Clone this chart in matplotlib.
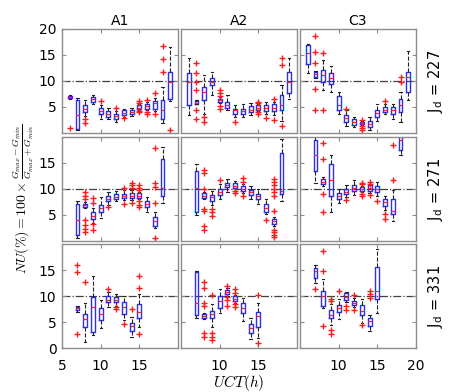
import matplotlib
matplotlib.use('Agg')
import matplotlib.pyplot as plt

plt.rcParams['font.family'] = ['DejaVu Sans']
plt.rcParams['mathtext.fontset'] = 'cm'

columns = ['A1', 'A2', 'C3']
jd_values = ['227', '271', '331']

# each row: hour, whisker low, q1, median, q3, whisker high, outliers
A1_227 = [
    (6, 6.6, 6.8, 7.0, 7.2, 7.4, [1.0]),
    (7, 0.5, 0.8, 3.5, 6.4, 6.8, []),
    (8, 3.3, 4.0, 4.6, 5.3, 6.3, [2.6, 1.9]),
    (9, 5.6, 6.0, 6.5, 6.95, 7.4, []),
    (10, 2.6, 3.6, 4.3, 4.9, 5.3, [6.1]),
    (11, 2.7, 3.05, 3.7, 4.2, 4.9, []),
    (12, 2.1, 2.7, 3.2, 3.7, 4.3, [4.9]),
    (13, 3.1, 3.4, 3.9, 4.35, 4.7, [2.9]),
    (14, 3.2, 3.7, 4.1, 4.5, 4.9, []),
    (15, 4.4, 4.6, 4.9, 5.3, 5.5, [6.1, 5.8, 4.3, 4.0]),
    (16, 4.5, 4.7, 5.1, 5.5, 5.9, [6.3, 4.1, 3.6]),
    (17, 4.2, 4.7, 5.7, 6.2, 6.8, [7.7, 3.6]),
    (18, 2.0, 2.7, 4.5, 6.3, 8.9, [16.8, 14.2, 11.8]),
    (19, 6.2, 6.6, 9.9, 11.7, 16.5, [0.6]),
]
A2_227 = [
    (6, 3.5, 5.45, 9.9, 11.6, 14.4, []),
    (7, 5.5, 5.6, 5.85, 6.1, 6.3, [13.4, 11.5, 9.9, 8.2, 4.35, 2.7]),
    (8, 3.7, 6.4, 7.9, 8.9, 11.2, [3.05, 2.2]),
    (9, 7.3, 9.2, 9.9, 10.5, 11.8, []),
    (10, 5.7, 6.0, 6.3, 6.6, 6.9, [8.2, 7.7, 7.2, 5.1, 4.7]),
    (11, 4.35, 4.9, 5.4, 6.0, 7.3, []),
    (12, 3.0, 3.6, 4.35, 4.7, 5.3, [2.1]),
    (13, 3.0, 3.6, 4.2, 4.7, 5.6, []),
    (14, 3.4, 4.0, 4.5, 5.1, 5.7, []),
    (15, 4.2, 4.35, 4.9, 5.3, 5.5, [6.0, 5.7, 4.0, 3.7]),
    (16, 3.7, 4.2, 4.8, 5.3, 6.0, [2.9]),
    (17, 3.5, 4.2, 4.9, 5.5, 5.9, [6.6, 2.5]),
    (18, 2.4, 4.5, 5.3, 7.3, 9.2, [14.4, 13.1, 1.4]),
    (19, 6.6, 7.6, 9.9, 11.8, 14.4, []),
]
C3_227 = [
    (6, 11.5, 13.2, 15.4, 17.0, 17.2, []),
    (7, 10.5, 10.8, 11.3, 11.8, 12.0, [18.6, 15.5, 13.4, 8.4, 4.35]),
    (8, 8.2, 9.9, 11.2, 12.1, 14.1, [15.4, 4.35]),
    (9, 7.9, 9.4, 10.5, 11.6, 12.8, []),
    (10, 3.7, 4.35, 5.3, 7.1, 7.9, []),
    (11, 1.4, 2.2, 2.9, 3.4, 4.35, [4.7]),
    (12, 1.1, 1.55, 2.1, 2.6, 3.05, []),
    (13, 1.5, 1.7, 1.9, 2.2, 2.4, [2.5, 1.3, 0.9, 0.5]),
    (14, 0.6, 1.2, 1.75, 2.3, 3.05, []),
    (15, 2.4, 3.05, 3.8, 4.5, 5.6, []),
    (16, 3.7, 4.0, 4.5, 5.0, 5.6, [6.2]),
    (17, 2.7, 3.7, 4.35, 5.0, 5.6, []),
    (18, 2.1, 4.0, 5.3, 6.6, 7.9, [10.8, 9.9]),
    (19, 6.3, 7.9, 10.7, 11.8, 15.7, []),
]
A1_271 = [
    (7, 0.55, 1.1, 4.0, 7.1, 7.7, []),
    (8, 6.3, 6.6, 6.9, 7.2, 7.5, [9.4, 8.7, 8.1, 4.0, 3.1, 2.3, 1.7]),
    (9, 3.5, 4.2, 4.9, 5.5, 6.3, [8.2, 7.4, 3.2, 2.2]),
    (10, 4.35, 5.5, 6.3, 7.0, 8.4, []),
    (11, 7.0, 7.6, 8.1, 8.6, 9.5, [6.6]),
    (12, 7.6, 8.1, 8.5, 9.0, 9.7, []),
    (13, 7.8, 8.2, 8.6, 9.0, 9.8, [10.2, 7.2]),
    (14, 7.8, 8.2, 8.7, 9.2, 9.8, [11.2, 10.7, 10.2, 7.4]),
    (15, 8.0, 8.3, 8.7, 9.2, 9.5, [10.7, 10.2, 9.8, 7.6, 7.0, 6.5]),
    (16, 5.5, 6.6, 7.1, 7.7, 8.5, []),
    (17, 2.5, 2.8, 3.9, 4.6, 5.6, [17.9, 11.2, 10.4, 7.4, 0.6]),
    (18, 7.4, 8.7, 10.2, 15.8, 18.1, []),
]
A2_271 = [
    (7, 5.0, 5.65, 10.2, 13.5, 14.9, []),
    (8, 8.1, 8.3, 8.7, 9.2, 9.4, [13.6, 13.0, 10.0, 6.1, 5.8, 2.8, 2.2]),
    (9, 7.0, 7.6, 8.4, 8.9, 9.7, [6.1, 5.5, 4.8]),
    (10, 8.1, 8.9, 9.5, 10.0, 11.0, [11.8]),
    (11, 9.5, 10.4, 10.8, 11.2, 12.0, []),
    (12, 9.7, 10.2, 10.6, 11.1, 11.6, [9.6, 9.3]),
    (13, 9.2, 9.6, 10.0, 10.5, 10.9, [12.1, 11.3, 8.7]),
    (14, 8.1, 8.9, 9.4, 9.8, 10.5, []),
    (15, 7.1, 8.1, 8.6, 9.0, 10.0, []),
    (16, 5.1, 5.65, 6.3, 7.1, 8.1, [3.95]),
    (17, 2.8, 3.3, 3.8, 4.15, 4.6, [12.0, 11.3, 10.7, 10.0, 9.4, 8.7, 5.8, 2.2, 1.7, 1.2, 0.7]),
    (18, 7.7, 9.05, 9.7, 16.9, 19.6, []),
]
C3_271 = [
    (7, 11.1, 13.4, 16.5, 19.4, 20.5, []),
    (8, 10.6, 11.0, 11.4, 12.0, 12.4, [18.9, 15.8, 9.0, 5.65]),
    (9, 5.6, 8.7, 11.7, 14.9, 16.6, []),
    (10, 7.4, 8.1, 8.6, 9.2, 10.0, []),
    (11, 8.5, 9.05, 9.5, 10.0, 10.7, [7.9]),
    (12, 8.9, 9.7, 10.2, 10.7, 11.7, []),
    (13, 9.4, 9.7, 10.0, 10.4, 10.6, [11.2, 10.9, 9.0, 8.6]),
    (14, 9.3, 9.7, 10.2, 10.7, 10.9, [11.3, 11.0, 8.9]),
    (15, 8.6, 9.4, 10.0, 10.5, 11.3, [7.7]),
    (16, 5.9, 6.8, 7.5, 8.1, 8.7, [5.1, 4.15]),
    (17, 3.8, 5.1, 5.8, 8.1, 9.8, [11.8, 18.5]),
    (18, 16.5, 17.5, 19.5, 20.5, 21.0, []),
]
A1_331 = [
    (7, 6.9, 7.25, 7.6, 7.9, 8.0, [16.0, 14.6, 2.7]),
    (8, 1.2, 4.0, 5.6, 6.6, 8.7, [12.7]),
    (9, 2.5, 3.1, 7.8, 9.8, 13.8, []),
    (10, 3.8, 5.4, 6.6, 7.7, 9.3, []),
    (11, 7.8, 8.9, 9.3, 10.0, 10.7, [11.3]),
    (12, 8.0, 8.8, 9.3, 9.8, 10.3, [7.8, 7.5]),
    (13, 5.4, 6.6, 7.9, 8.8, 10.0, [4.6]),
    (14, 2.1, 3.3, 4.25, 4.8, 6.0, [7.5]),
    (15, 4.1, 5.75, 6.9, 8.4, 10.3, [13.9, 11.5, 2.6]),
]
A2_331 = [
    (7, 5.75, 6.4, 8.6, 14.6, 14.9, []),
    (8, 5.6, 5.75, 6.2, 6.6, 6.8, [12.6, 11.6, 8.7, 8.0, 2.8, 2.2]),
    (9, 4.0, 5.75, 6.5, 7.1, 8.4, [10.1, 2.8, 2.2, 1.5]),
    (10, 6.7, 7.7, 9.0, 10.0, 11.3, []),
    (11, 10.0, 10.3, 10.7, 11.1, 11.5, [12.0, 9.9, 9.3, 8.0]),
    (12, 8.6, 9.0, 9.5, 10.0, 10.2, [11.3, 10.5, 8.4, 7.9]),
    (13, 5.1, 6.7, 7.7, 8.7, 9.7, []),
    (14, 1.8, 2.9, 3.8, 4.6, 5.75, []),
    (15, 2.0, 4.1, 6.1, 6.9, 8.7, [10.1, 1.0]),
]
C3_331 = [
    (7, 12.5, 13.4, 14.9, 15.4, 15.9, [11.3]),
    (8, 7.6, 8.0, 10.0, 11.0, 13.3, [18.7, 14.9, 4.2]),
    (9, 4.5, 5.75, 6.4, 7.3, 8.4, [9.5, 9.0, 3.5, 2.6]),
    (10, 5.6, 6.9, 7.6, 8.2, 9.4, [11.0]),
    (11, 8.9, 9.3, 9.8, 10.5, 10.8, [8.0, 7.3]),
    (12, 7.8, 8.3, 8.6, 9.0, 9.6, [10.2, 7.3]),
    (13, 4.8, 6.4, 7.1, 8.2, 9.4, [4.4]),
    (14, 3.2, 4.2, 5.1, 5.75, 6.4, [11.0, 10.4, 9.7]),
    (15, 6.7, 9.5, 11.0, 15.5, 19.1, []),
]

panels = [[A1_227, A2_227, C3_227],
          [A1_271, A2_271, C3_271],
          [A1_331, A2_331, C3_331]]

FW, FH = 460, 392
fig = plt.figure(figsize=(FW / 100, FH / 100), dpi=100)
lefts = [62, 181, 300]
tops = [29, 137, 244]
W, H = 116, 104

grey = '#8c8c8c'
for r in range(3):
    for c in range(3):
        ax = fig.add_axes([lefts[c] / FW, 1 - (tops[r] + H) / FH, W / FW, H / FH])
        data = panels[r][c]
        stats = [dict(med=m, q1=a, q3=b, whislo=lo, whishi=hi, fliers=f)
                 for (x, lo, a, m, b, hi, f) in data]
        pos = [d[0] for d in data]
        ax.axhline(10, color='#404040', ls='-.', lw=0.9, zorder=0)
        ax.bxp(stats, positions=pos, widths=0.5, capwidths=0.3, manage_ticks=False,
               boxprops=dict(color='#2f2ff0', linewidth=1.0),
               medianprops=dict(color='#ff2020', linewidth=0.9),
               whiskerprops=dict(color='#222222', linestyle='--', linewidth=0.8),
               capprops=dict(color='#222222', linewidth=0.8),
               flierprops=dict(marker='+', markeredgecolor='#ff1a1a', markersize=5,
                               markeredgewidth=1.0, linestyle='none'))
        ax.set_xlim(5, 20)
        ax.set_ylim(0, 20)
        for s in ax.spines.values():
            s.set_color(grey)
            s.set_linewidth(1.0)
        ax.tick_params(direction='in', top=True, right=True, length=3, color=grey,
                       labelsize=10)
        ax.tick_params(axis='x', pad=8)
        ax.tick_params(axis='y', pad=4)
        if r == 2:
            xt = [[5, 10, 15], [10, 15], [10, 15, 20]][c]
            ax.set_xticks(xt)
            ax.set_xticklabels([str(v) for v in xt])
        else:
            ax.set_xticks([10, 15])
            ax.set_xticklabels([])
        if c == 0:
            yt = [[5, 10, 15, 20], [5, 10, 15], [0, 5, 10, 15]][r]
            ax.set_yticks(yt)
            ax.set_yticklabels([str(v) for v in yt])
        else:
            ax.set_yticks([5, 10, 15])
            ax.set_yticklabels([])
        if r == 0:
            ax.set_title(columns[c], fontsize=10, pad=3)
        if c == 2:
            yc = 1 - (tops[r] + H / 2) / FH
            fig.text(436 / FW, yc, r'J$_\mathregular{d}$ = ' + jd_values[r], rotation=90,
                     ha='center', va='center', fontsize=10.5)

fig.text(23 / FW, 1 - 199 / FH,
         r'$NU(\%) = 100 \times \frac{G_{max}-G_{min}}{G_{max}+G_{min}}$',
         rotation=90, ha='center', va='center', fontsize=10)
fig.text(239 / FW, 1 - 383 / FH, r'$UCT(h)$', ha='center', va='center', fontsize=11)

fig.savefig('out.png', dpi=100, facecolor='white')
